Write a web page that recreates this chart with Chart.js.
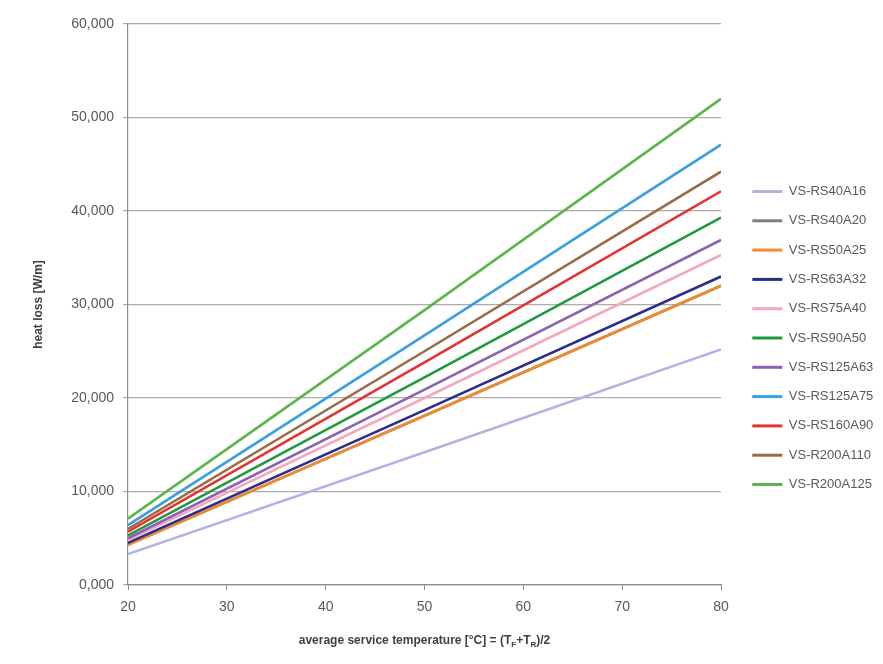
<!DOCTYPE html>
<html>
	<head>
		<meta charset="UTF-8">
		<title>heat loss</title>
		<style type="text/css">
			html, body{
				margin: 0;
				padding: 0;
				background: #fff;
			}
			#box{
				width: 883px;
				height: 664px;
			}
		</style>
	</head>
	<body>
		<div id="box"><canvas id="myChart"></canvas></div>
	</body>
	<script src="https://cdn.jsdelivr.net/npm/chart.js@4/dist/chart.umd.min.js"></script>
	<script>
		// average service temperature [°C]
		var temps = [20, 50, 80];
		var tickLabelsY = [0, 10000, 20000, 30000, 40000, 50000, 60000];

		var names = ['VS-RS40A16', 'VS-RS40A20', 'VS-RS50A25', 'VS-RS63A32', 'VS-RS75A40', 'VS-RS90A50',
			'VS-RS125A63', 'VS-RS125A75', 'VS-RS160A90', 'VS-R200A110', 'VS-R200A125'];

		// heat loss [W/m] at 20, 50 and 80 °C
		var rs40a16 = [3300, 14200, 25200];
		var rs40a20 = [4300, 18100, 32000];
		var rs50a25 = [4300, 18100, 32000];
		var rs63a32 = [4500, 18700, 33000];
		var rs75a40 = [4800, 20000, 35300];
		var rs90a50 = [5300, 22200, 39300];
		var rs125a63 = [5000, 20900, 36900];
		var rs125a75 = [6400, 26700, 47100];
		var rs160a90 = [5700, 23800, 42100];
		var r200a110 = [6000, 25000, 44200];
		var r200a125 = [7100, 29400, 52000];

		var colors = ['#b3b3e3', '#7f7f7f', '#f08a2c', '#2b2d8c', '#f4a7bf', '#1e9a3c',
			'#8a62b4', '#3a9ee0', '#e4322f', '#9b6b45', '#5cb54a'];
		var values = [rs40a16, rs40a20, rs50a25, rs63a32, rs75a40, rs90a50,
			rs125a63, rs125a75, rs160a90, r200a110, r200a125];

		var datasets = [];
		names.forEach((n, i) => {
			datasets.push({
				label: n,
				data: temps.map((t, k) => ({x: t, y: values[i][k]})),
				borderColor: colors[i],
				backgroundColor: colors[i],
				borderWidth: 2.6,
				pointRadius: 0,
				tension: 0,
				order: -i   // later series on top, like the original
			});
		});

		// x title with subscripts
		var xTitle = {
			id: 'xTitle',
			afterDraw(chart){
				let ctx = chart.ctx;
				let a = chart.chartArea;
				let parts = [
					['average service temperature [°C] = (T', 0],
					['F', 1],
					['+T', 0],
					['R', 1],
					[')/2', 0]
				];
				let big = 'bold 12px "Liberation Sans"', small = 'bold 8px "Liberation Sans"';
				ctx.save();
				let w = 0;
				parts.forEach(p => { ctx.font = p[1] ? small : big; w += ctx.measureText(p[0]).width; });
				let x = (a.left + a.right) / 2 - w / 2;
				let y = 644;
				ctx.fillStyle = '#404040';
				ctx.textBaseline = 'alphabetic';
				parts.forEach(p => {
					ctx.font = p[1] ? small : big;
					ctx.fillText(p[0], x, p[1] ? y + 3 : y);
					x += ctx.measureText(p[0]).width;
				});
				ctx.restore();
			}
		};

		var ctx = document.getElementById('myChart').getContext('2d');
		var chart = new Chart(ctx, {
			type: 'line',
			data: { datasets: datasets },
			options: {
				responsive: true,
				maintainAspectRatio: false,
				animation: false,
				layout: { padding: { left: 31, top: 24, bottom: 12, right: 6 } },
				plugins: {
					tooltip: { enabled: false },
					legend: {
						position: 'right',
						labels: {
							boxWidth: 30,
							boxHeight: 3,
							padding: 16.3,
							color: '#595959',
							font: { family: 'Liberation Sans', size: 13 },
							sort: (a, b) => a.datasetIndex - b.datasetIndex,
							generateLabels: function(c){
								return Chart.defaults.plugins.legend.labels.generateLabels(c).map(l => {
									l.lineWidth = 0;
									return l;
								});
							}
						}
					}
				},
				scales: {
					x: {
						type: 'linear',
						min: 20,
						max: 80,
						grid: { drawOnChartArea: false, drawTicks: true, tickLength: 5, color: '#8c8c8c' },
						border: { color: '#8c8c8c', width: 1.2 },
						ticks: {
							stepSize: 10,
							padding: 9,
							color: '#595959',
							font: { family: 'Liberation Sans', size: 14 }
						},
						afterFit: function(s){ s.height = 67; }
					},
					y: {
						min: 0,
						max: 60000,
						grid: { color: '#acacac', lineWidth: 1.2, tickLength: 5 },
						border: { color: '#8c8c8c', width: 1.2 },
						ticks: {
							stepSize: 10000,
							padding: 9,
							color: '#595959',
							font: { family: 'Liberation Sans', size: 14 },
							callback: function(v){
								if (tickLabelsY.indexOf(v) < 0) return '';
								return (v / 1000) + ',000';
							}
						},
						title: {
							display: true,
							text: 'heat loss [W/m]',
							color: '#404040',
							padding: 0,
							font: { family: 'Liberation Sans', size: 12, weight: 'bold' }
						},
						afterFit: function(s){ s.width = 97; }
					},
					gap: {
						type: 'linear',
						position: 'right',
						display: true,
						grid: { display: false },
						border: { display: false },
						ticks: { display: false },
						afterFit: function(s){ s.width = 15; }
					}
				}
			},
			plugins: [xTitle]
		});
	</script>
</html>
